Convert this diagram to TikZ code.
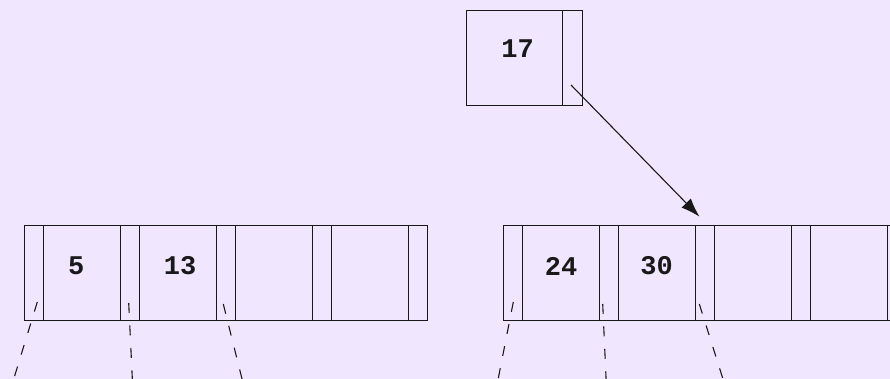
\documentclass[tikz,border=0pt]{standalone}
\usepackage{fontspec}
\newfontfamily\codefont{Liberation Mono}
\usetikzlibrary{arrows.meta}
\definecolor{bgc}{RGB}{240,230,253}
\definecolor{ink}{RGB}{25,25,25}
\begin{document}
\begin{tikzpicture}[x=1pt,y=-1pt,
  cell/.style={draw=ink, line width=1.15pt, inner sep=0pt, minimum height=95.6pt, anchor=north west},
  ptrcell/.style={cell, minimum width=19.3pt},
  keycell/.style={cell, minimum width=76.7pt},
  lbl/.style={inner sep=0pt, text=ink, font=\codefont\bfseries\fontsize{27}{27}\selectfont},
  link/.style={draw=ink, line width=1.1pt, dash pattern=on 10pt off 12.5pt},
  ptrarrow/.style={draw=ink, line width=1.1pt, -{Latex[length=19pt,width=13pt]}}
]
\fill[bgc] (0,0) rectangle (890,379);
\useasboundingbox (0,0) rectangle (890,379);

% top node
\node[cell, minimum width=96pt, minimum height=95pt] (Tk) at (466,10) {};
\node[cell, minimum width=20pt, minimum height=95pt] (Tp) at (562,10) {};
\node[lbl] (T17) at (517.5,49) {17};

% bottom left node
\foreach \i in {0,...,4} \node[ptrcell] (Lp\i) at ({24+96*\i},224.7) {};
\foreach \i in {0,...,3} \node[keycell] (Lk\i) at ({43.3+96*\i},224.7) {};
\node[lbl] (L5) at (76.3,266) {5};
\node[lbl] (L13) at (180,266) {13};

% bottom right node
\foreach \i in {0,...,4} \node[ptrcell] (Rp\i) at ({502.7+96*\i},224.7) {};
\foreach \i in {0,...,3} \node[keycell] (Rk\i) at ({522+96*\i},224.7) {};
\node[lbl] (R24) at (561,266) {24};
\node[lbl] (R30) at (656.5,266) {30};

% arrow from top node to right node
\coordinate (a0) at (571,85);
\coordinate (a1) at (699.5,216.7);
\draw[ptrarrow] (a0) -- (a1);

% dashed child pointers
\coordinate (l0s) at (37.3,302);   \coordinate (l0e) at (8.8,395);
\coordinate (l1s) at (128.7,303);  \coordinate (l1e) at (133.1,395);
\coordinate (l2s) at (223.3,304);  \coordinate (l2e) at (246,395);
\coordinate (r0s) at (513.3,302);  \coordinate (r0e) at (495,395);
\coordinate (r1s) at (602.7,304);  \coordinate (r1e) at (606.8,395);
\coordinate (r2s) at (699.3,304);  \coordinate (r2e) at (728,395);
\foreach \c in {l0,l1,l2,r0,r1,r2} \draw[link] (\c s) -- (\c e);
\end{tikzpicture}
\end{document}
